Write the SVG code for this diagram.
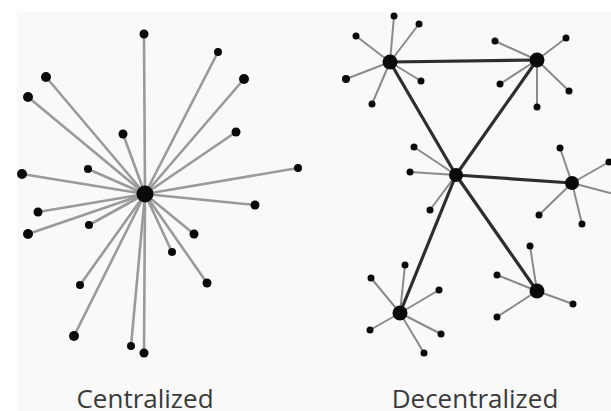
<svg xmlns="http://www.w3.org/2000/svg" width="611" height="411" viewBox="0 0 611 411">
<style>
.ls{stroke:#9a9a9a;stroke-width:2.6;stroke-linecap:round;fill:none}
.rs{stroke:#8a8a8a;stroke-width:2;stroke-linecap:round;fill:none}
.hl{stroke:#2e2e2e;stroke-width:3.2;stroke-linecap:round;fill:none}
.n circle{fill:#0a0a0a}
.lbl{font-family:"Open Sans","Noto Sans","Liberation Sans",sans-serif;font-size:26px;fill:#3a3a3a;text-anchor:middle}
</style>
<rect x="0" y="0" width="611" height="411" fill="#ffffff"/>
<rect x="17" y="12" width="594" height="399" fill="#f9f9f9"/>
<g id="connectors">
<g id="central-links">
<line class="ls" x1="145" y1="194" x2="144" y2="34"/>
<line class="ls" x1="145" y1="194" x2="218" y2="52"/>
<line class="ls" x1="145" y1="194" x2="244" y2="79"/>
<line class="ls" x1="145" y1="194" x2="46" y2="77"/>
<line class="ls" x1="145" y1="194" x2="28" y2="97"/>
<line class="ls" x1="145" y1="194" x2="123" y2="134"/>
<line class="ls" x1="145" y1="194" x2="236" y2="132"/>
<line class="ls" x1="145" y1="194" x2="88" y2="169"/>
<line class="ls" x1="145" y1="194" x2="22" y2="174"/>
<line class="ls" x1="145" y1="194" x2="298" y2="168"/>
<line class="ls" x1="145" y1="194" x2="255" y2="205"/>
<line class="ls" x1="145" y1="194" x2="38" y2="212"/>
<line class="ls" x1="145" y1="194" x2="28" y2="234"/>
<line class="ls" x1="145" y1="194" x2="89" y2="225"/>
<line class="ls" x1="145" y1="194" x2="194" y2="234"/>
<line class="ls" x1="145" y1="194" x2="172" y2="252"/>
<line class="ls" x1="145" y1="194" x2="207" y2="283"/>
<line class="ls" x1="145" y1="194" x2="80" y2="285"/>
<line class="ls" x1="145" y1="194" x2="74" y2="336"/>
<line class="ls" x1="145" y1="194" x2="131" y2="346"/>
<line class="ls" x1="145" y1="194" x2="144" y2="353"/>
</g>
<g id="decentral-leaf-links">
<line class="rs" x1="390" y1="62" x2="394" y2="16"/>
<line class="rs" x1="390" y1="62" x2="419" y2="24"/>
<line class="rs" x1="390" y1="62" x2="356" y2="36"/>
<line class="rs" x1="390" y1="62" x2="346" y2="79"/>
<line class="rs" x1="390" y1="62" x2="372" y2="104"/>
<line class="rs" x1="390" y1="62" x2="421" y2="81"/>
<line class="rs" x1="537" y1="60" x2="495" y2="41"/>
<line class="rs" x1="537" y1="60" x2="566" y2="38"/>
<line class="rs" x1="537" y1="60" x2="500" y2="84"/>
<line class="rs" x1="537" y1="60" x2="569" y2="91"/>
<line class="rs" x1="537" y1="60" x2="537" y2="107"/>
<line class="rs" x1="456" y1="175" x2="414" y2="147"/>
<line class="rs" x1="456" y1="175" x2="410" y2="172"/>
<line class="rs" x1="456" y1="175" x2="430" y2="210"/>
<line class="rs" x1="572" y1="183" x2="560" y2="148"/>
<line class="rs" x1="572" y1="183" x2="609" y2="162"/>
<line class="rs" x1="572" y1="183" x2="625" y2="197"/>
<line class="rs" x1="572" y1="183" x2="539" y2="215"/>
<line class="rs" x1="572" y1="183" x2="582" y2="224"/>
<line class="rs" x1="400" y1="313" x2="371" y2="278"/>
<line class="rs" x1="400" y1="313" x2="405" y2="265"/>
<line class="rs" x1="400" y1="313" x2="439" y2="290"/>
<line class="rs" x1="400" y1="313" x2="370" y2="330"/>
<line class="rs" x1="400" y1="313" x2="441" y2="334"/>
<line class="rs" x1="400" y1="313" x2="424" y2="353"/>
<line class="rs" x1="537" y1="291" x2="530" y2="246"/>
<line class="rs" x1="537" y1="291" x2="497" y2="275"/>
<line class="rs" x1="537" y1="291" x2="573" y2="304"/>
<line class="rs" x1="537" y1="291" x2="497" y2="317"/>
</g>
<g id="hub-links">
<line class="hl" x1="390" y1="62" x2="537" y2="60"/>
<line class="hl" x1="390" y1="62" x2="456" y2="175"/>
<line class="hl" x1="537" y1="60" x2="456" y2="175"/>
<line class="hl" x1="456" y1="175" x2="572" y2="183"/>
<line class="hl" x1="456" y1="175" x2="400" y2="313"/>
<line class="hl" x1="456" y1="175" x2="537" y2="291"/>
</g>
</g>
<g id="central-hub" class="n"><circle cx="145" cy="194" r="8.5"/></g>
<g id="central-leaves" class="n">
<g id="c1"><circle cx="144" cy="34" r="4.5"/></g>
<g id="c2"><circle cx="218" cy="52" r="4"/></g>
<g id="c3"><circle cx="244" cy="79" r="5"/></g>
<g id="c4"><circle cx="46" cy="77" r="5"/></g>
<g id="c5"><circle cx="28" cy="97" r="5"/></g>
<g id="c6"><circle cx="123" cy="134" r="4.5"/></g>
<g id="c7"><circle cx="236" cy="132" r="4.5"/></g>
<g id="c8"><circle cx="88" cy="169" r="4"/></g>
<g id="c9"><circle cx="22" cy="174" r="5"/></g>
<g id="c10"><circle cx="298" cy="168" r="4"/></g>
<g id="c11"><circle cx="255" cy="205" r="4.5"/></g>
<g id="c12"><circle cx="38" cy="212" r="4.5"/></g>
<g id="c13"><circle cx="28" cy="234" r="5"/></g>
<g id="c14"><circle cx="89" cy="225" r="4"/></g>
<g id="c15"><circle cx="194" cy="234" r="4.5"/></g>
<g id="c16"><circle cx="172" cy="252" r="4"/></g>
<g id="c17"><circle cx="207" cy="283" r="4.5"/></g>
<g id="c18"><circle cx="80" cy="285" r="4"/></g>
<g id="c19"><circle cx="74" cy="336" r="5"/></g>
<g id="c20"><circle cx="131" cy="346" r="4"/></g>
<g id="c21"><circle cx="144" cy="353" r="4.5"/></g>
</g>
<g id="decentral-hubs" class="n">
<g id="hubA"><circle cx="390" cy="62" r="7.5"/></g>
<g id="hubB"><circle cx="537" cy="60" r="7.5"/></g>
<g id="hubC"><circle cx="456" cy="175" r="7"/></g>
<g id="hubD"><circle cx="572" cy="183" r="7"/></g>
<g id="hubE"><circle cx="400" cy="313" r="7.5"/></g>
<g id="hubF"><circle cx="537" cy="291" r="7.5"/></g>
</g>
<g id="decentral-leaves" class="n">
<g id="a1"><circle cx="394" cy="16" r="3.5"/></g>
<g id="a2"><circle cx="419" cy="24" r="3.5"/></g>
<g id="a3"><circle cx="356" cy="36" r="3.5"/></g>
<g id="a4"><circle cx="346" cy="79" r="4"/></g>
<g id="a5"><circle cx="372" cy="104" r="3.5"/></g>
<g id="a6"><circle cx="421" cy="81" r="3.5"/></g>
<g id="b1"><circle cx="495" cy="41" r="3.5"/></g>
<g id="b2"><circle cx="566" cy="38" r="3.5"/></g>
<g id="b3"><circle cx="500" cy="84" r="3.5"/></g>
<g id="b4"><circle cx="569" cy="91" r="3.5"/></g>
<g id="b5"><circle cx="537" cy="107" r="3.5"/></g>
<g id="cc1"><circle cx="414" cy="147" r="3.5"/></g>
<g id="cc2"><circle cx="410" cy="172" r="3.5"/></g>
<g id="cc3"><circle cx="430" cy="210" r="3.5"/></g>
<g id="d1"><circle cx="560" cy="148" r="3.5"/></g>
<g id="d2"><circle cx="609" cy="162" r="3.5"/></g>
<g id="d3"><circle cx="625" cy="197" r="3.5"/></g>
<g id="d4"><circle cx="539" cy="215" r="3.5"/></g>
<g id="d5"><circle cx="582" cy="224" r="3.5"/></g>
<g id="e1"><circle cx="371" cy="278" r="3.5"/></g>
<g id="e2"><circle cx="405" cy="265" r="3.5"/></g>
<g id="e3"><circle cx="439" cy="290" r="3.5"/></g>
<g id="e4"><circle cx="370" cy="330" r="3.5"/></g>
<g id="e5"><circle cx="441" cy="334" r="3.5"/></g>
<g id="e6"><circle cx="424" cy="353" r="3.5"/></g>
<g id="f1"><circle cx="530" cy="246" r="3.5"/></g>
<g id="f2"><circle cx="497" cy="275" r="3.5"/></g>
<g id="f3"><circle cx="573" cy="304" r="3.5"/></g>
<g id="f4"><circle cx="497" cy="317" r="3.5"/></g>
</g>
<g id="labels">
<text class="lbl" x="145" y="408">Centralized</text>
<text class="lbl" x="475" y="408">Decentralized</text>
</g>
</svg>
